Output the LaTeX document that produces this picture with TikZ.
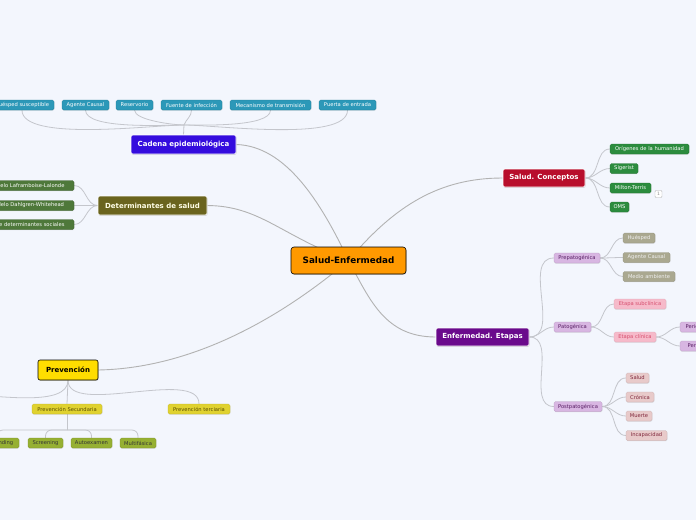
\documentclass[tikz,border=0pt]{standalone}
\usepackage{fontspec}
\setmainfont{DejaVu Sans}
\usepackage{tikz}
\usetikzlibrary{shadows, backgrounds, calc}
\definecolor{bgblue}{RGB}{243,246,253}
\definecolor{linegray}{RGB}{196,198,204}
\definecolor{cblue}{RGB}{52,12,222}
\definecolor{cteal}{RGB}{44,152,184}
\definecolor{colive}{RGB}{106,100,30}
\definecolor{cdkgreen}{RGB}{78,120,58}
\definecolor{ccrimson}{RGB}{184,14,44}
\definecolor{cgreen}{RGB}{44,140,62}
\definecolor{cpurple}{RGB}{106,10,140}
\definecolor{clilac}{RGB}{216,182,226}
\definecolor{clilactxt}{RGB}{88,30,100}
\definecolor{cstone}{RGB}{170,168,144}
\definecolor{cpink}{RGB}{246,186,202}
\definecolor{cpinktxt}{RGB}{214,78,110}
\definecolor{crose}{RGB}{232,202,202}
\definecolor{crosetxt}{RGB}{128,40,60}
\definecolor{corange}{RGB}{255,153,0}
\definecolor{cyellow}{RGB}{255,221,0}
\definecolor{cmustard}{RGB}{224,210,48}
\definecolor{cmustardtxt}{RGB}{88,78,0}
\definecolor{clime}{RGB}{150,176,50}
\tikzset{
  leaf/.style={rectangle, rounded corners=1.5pt, minimum height=10pt,
    inner sep=0.5pt, font=\fontsize{5.2}{6}\selectfont, line width=0.3pt,
    drop shadow={shadow xshift=0.4pt, shadow yshift=-0.7pt, opacity=0.25}},
  tealleaf/.style={leaf, fill=cteal, draw=cteal!80!black, text=white},
  dkgreenleaf/.style={leaf, fill=cdkgreen, draw=cdkgreen!80!black, text=white},
  greenleaf/.style={leaf, fill=cgreen, draw=cgreen!80!black, text=white},
  lilacleaf/.style={leaf, fill=clilac, draw=clilac!85!black, text=clilactxt},
  stoneleaf/.style={leaf, fill=cstone, draw=cstone!85!black, text=white!94!black},
  pinkleaf/.style={leaf, fill=cpink, draw=cpink!90!black, text=cpinktxt},
  roseleaf/.style={leaf, fill=crose, draw=crose!85!black, text=crosetxt},
  mustardleaf/.style={leaf, fill=cmustard, draw=cmustard!85!black, text=cmustardtxt},
  limeleaf/.style={leaf, fill=clime, draw=clime!80!black, text=black!80},
  topic/.style={rectangle, rounded corners=2pt, minimum height=19pt,
    inner sep=1pt, font=\fontsize{7}{8}\selectfont\bfseries, line width=0.6pt,
    text=white, drop shadow={shadow xshift=0.5pt, shadow yshift=-0.9pt, opacity=0.3}},
  conn/.style={draw=linegray, line width=0.8pt},
  mainconn/.style={draw=black!30, line width=0.9pt}
}

\begin{document}
\begin{tikzpicture}[x=1pt, y=-1pt]
  % Canvas
  \useasboundingbox (0,0) rectangle (696,520);
  \clip (0,0) rectangle (696,520);

  % Central topic
  \node[topic, fill=corange, draw=black, text=black, minimum width=115pt,
    minimum height=27pt, font=\fontsize{8.8}{10}\selectfont\bfseries, rounded corners=3pt]
    (salenf) at (348.5,260.5) {Salud-Enfermedad};

  % Cadena epidemiologica
  \node[topic, fill=cblue, draw=white, minimum width=105pt] (cadena) at (183.5,144.5) {Cadena epidemiológica};
  \node[tealleaf, minimum width=64pt] (huesped) at (22,105) {Huésped susceptible};
  \node[tealleaf, minimum width=47pt] (agente) at (85.5,105) {Agente Causal};
  \node[tealleaf, minimum width=37pt] (reserv) at (134.5,105) {Reservorio};
  \node[tealleaf, minimum width=61pt] (fuente) at (191.5,105) {Fuente de infección};
  \node[tealleaf, minimum width=81pt] (mecan) at (270.5,105) {Mecanismo de transmisión};
  \node[tealleaf, minimum width=57pt] (puerta) at (347.5,105) {Puerta de entrada};
  \coordinate (cj) at (184,125);

  % Determinantes
  \node[topic, fill=colive, draw=white, text=white!90!yellow, minimum width=109pt] (determ) at (152.5,205.5) {Determinantes de salud};
  \node[dkgreenleaf, minimum width=94pt] (lalonde) at (27,185.5) {Modelo Laframboise-Lalonde};
  \node[dkgreenleaf, minimum width=94pt] (dahlgren) at (27,205.5) {Modelo Dahlgren-Whitehead};
  \node[dkgreenleaf, minimum width=108pt] (sociales) at (20,224.5) {Modelo de determinantes sociales};

  % Salud. Conceptos
  \node[topic, fill=ccrimson, draw=white, minimum width=82pt, minimum height=18pt] (concep) at (544,178) {Salud. Conceptos};
  \node[greenleaf, minimum width=79pt] (origen) at (649.5,149) {Orígenes de la humanidad};
  \node[greenleaf, minimum width=28pt] (sigerist) at (624,168.5) {Sigerist};
  \node[greenleaf, minimum width=41pt] (milton) at (630.5,188) {Milton-Terris};
  \node[greenleaf, minimum width=19pt] (oms) at (619.5,207) {OMS};
  \node[rectangle, rounded corners=1pt, draw=black!30, fill=white, text=black!45,
    minimum size=7pt, inner sep=0pt, font=\fontsize{4.5}{5}\selectfont] (nota) at (658.5,194) {1};

  % Enfermedad. Etapas
  \node[topic, fill=cpurple, draw=white, minimum width=93pt, minimum height=18pt] (etapas) at (482.5,337) {Enfermedad. Etapas};
  \node[lilacleaf, minimum width=46pt] (prepat) at (577,258) {Prepatogénica};
  \node[lilacleaf, minimum width=37pt] (patog) at (572.5,327) {Patogénica};
  \node[lilacleaf, minimum width=48pt] (postpat) at (578,406.5) {Postpatogénica};
  \node[stoneleaf, minimum width=32pt] (huesp) at (639,238) {Huésped};
  \node[stoneleaf, minimum width=47pt] (agcausal) at (646.5,257.5) {Agente Causal};
  \node[stoneleaf, minimum width=52pt] (medio) at (649,276.5) {Medio ambiente};
  \node[pinkleaf, minimum width=52pt] (subclin) at (640,304) {Etapa subclínica};
  \node[pinkleaf, minimum width=42pt] (clinica) at (635,337) {Etapa clínica};
  \node[lilacleaf, minimum width=62pt] (prodrom) at (711,327) {Periodo prodrómico};
  \node[lilacleaf, minimum width=62pt] (estado) at (711,346) {Periodo de estado};
  \node[roseleaf, minimum width=23pt] (salud) at (637.5,378) {Salud};
  \node[roseleaf, minimum width=28pt] (cronica) at (640,397) {Crónica};
  \node[roseleaf, minimum width=26pt] (muerte) at (639,416) {Muerte};
  \node[roseleaf, minimum width=41pt] (incapac) at (646.5,435.5) {Incapacidad};

  % Prevencion
  \node[topic, fill=cyellow, draw=black, text=black, minimum width=60pt, minimum height=20pt] (prevenc) at (68,370) {Prevención};
  \node[mustardleaf, minimum width=70pt] (secund) at (67,409) {Prevención Secundaria};
  \node[mustardleaf, minimum width=62pt] (tercia) at (199,409) {Prevención terciaria};
  \node[limeleaf, minimum width=44pt] (casefind) at (-3,443) {Case finding};
  \node[limeleaf, minimum width=35pt] (screen) at (45.5,443) {Screening};
  \node[limeleaf, minimum width=41pt] (autoex) at (91.5,443) {Autoexamen};
  \node[limeleaf, minimum width=36pt] (multi) at (138,443) {Multifásica};
  \coordinate (primaria) at (-30,395);
  \coordinate (sj) at (67,430);

  % Connectors
  \begin{pgfonlayer}{background}
    \fill[bgblue] (0,0) rectangle (696,520);
    \draw[mainconn] (cadena.east) .. controls (285,146) and (320,200) .. (salenf.center);
    \draw[mainconn] (determ.east) .. controls (260,206) and (280,235) .. (salenf.center);
    \draw[mainconn] (concep.west) .. controls (440,178) and (395,205) .. (salenf.center);
    \draw[mainconn] (etapas.west) .. controls (385,337) and (370,300) .. (salenf.center);
    \draw[mainconn] (prevenc.east) .. controls (200,368) and (290,310) .. (salenf.center);

    \foreach \n in {huesped, agente, reserv}
      \draw[conn] (\n.south) to[out=-90, in=180, looseness=0.5] (cj);
    \draw[conn] (fuente.south) to[out=-90, in=70] (cj);
    \foreach \n in {mecan, puerta}
      \draw[conn] (\n.south) to[out=-90, in=0, looseness=0.5] (cj);
    \draw[conn] (cj) -- (cadena.north);

    \foreach \n in {lalonde, dahlgren, sociales}
      \draw[conn] (\n.east) to[out=0, in=180] (determ.west);
    \foreach \n in {origen, sigerist, milton, oms}
      \draw[conn] (concep.east) to[out=0, in=180] (\n.west);
    \foreach \n in {prepat, patog, postpat}
      \draw[conn] (etapas.east) to[out=0, in=180] (\n.west);
    \foreach \n in {huesp, agcausal, medio}
      \draw[conn] (prepat.east) to[out=0, in=180] (\n.west);
    \foreach \n in {subclin, clinica}
      \draw[conn] (patog.east) to[out=0, in=180] (\n.west);
    \foreach \n in {prodrom, estado}
      \draw[conn] (clinica.east) to[out=0, in=180] (\n.west);
    \foreach \n in {salud, cronica, muerte, incapac}
      \draw[conn] (postpat.east) to[out=0, in=180] (\n.west);

    \draw[conn] (prevenc.south) to[out=-90, in=0, looseness=0.7] (primaria);
    \draw[conn] (prevenc.south) -- (secund.north);
    \draw[conn] (prevenc.south) to[out=-90, in=90, looseness=0.7] (tercia.north);
    \draw[conn] (secund.south) -- (sj);
    \foreach \n in {casefind, screen, autoex, multi}
      \draw[conn, rounded corners=6pt] (sj) -- (sj -| \n.north) -- (\n.north);
  \end{pgfonlayer}
\end{tikzpicture}
\end{document}
